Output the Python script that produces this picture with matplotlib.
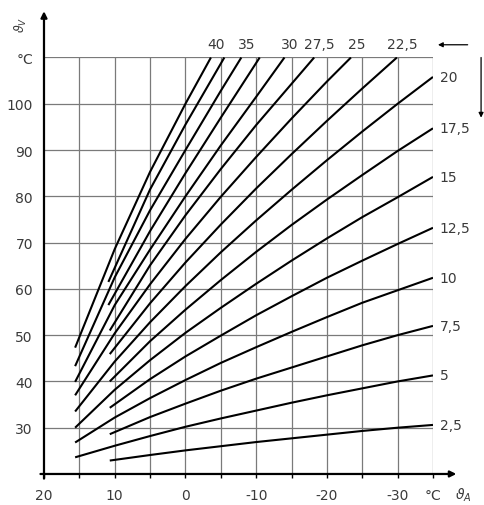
import matplotlib.pyplot as plt

# Heating curves: flow temperature vs. outside temperature, one line per steepness.
# Values (outside temp in °C, flow temp in °C).
x_from_16 = [15.6, 10, 5, 0, -5, -10, -15, -20, -25, -30, -35]
x_from_11 = [10.7, 5, 0, -5, -10, -15, -20, -25, -30, -35]

curve_2_5 = [22.9, 24.1, 25.1, 26.0, 26.9, 27.7, 28.5, 29.3, 30.0, 30.6]
curve_5 = [23.6, 26.1, 28.2, 30.2, 32.0, 33.7, 35.4, 37.0, 38.5, 40.0, 41.3]
curve_7_5 = [28.6, 32.3, 35.2, 38.0, 40.6, 43.0, 45.4, 47.8, 50.0, 52.0]
curve_10 = [26.8, 32.2, 36.4, 40.3, 44.0, 47.4, 50.7, 53.9, 57.0, 59.7, 62.4]
curve_12_5 = [34.3, 40.5, 45.4, 49.9, 54.3, 58.4, 62.4, 66.1, 69.7, 73.2]
curve_15 = [30.0, 38.2, 44.6, 50.5, 55.9, 61.1, 66.1, 70.9, 75.5, 79.8, 84.2]
curve_17_5 = [40.0, 48.7, 55.5, 61.9, 68.0, 73.8, 79.3, 84.6, 89.8, 94.7]
curve_20 = [33.5, 44.3, 52.8, 60.6, 67.9, 74.8, 81.4, 87.8, 94.0, 100.0, 105.8]

# steeper curves leave the chart through the 110 °C line
x_22_5 = [10.7, 5, 0, -5, -10, -15, -20, -25, -29.9]
curve_22_5 = [45.9, 56.9, 65.7, 73.9, 81.7, 89.1, 96.3, 103.3, 110]
x_25 = [15.6, 10, 5, 0, -5, -10, -15, -20, -23.4]
curve_25 = [37.0, 50.4, 61.0, 70.8, 79.9, 88.5, 96.8, 104.8, 110]
x_27_5 = [10.7, 5, 0, -5, -10, -15, -18.2]
curve_27_5 = [51.0, 65.1, 75.9, 85.9, 95.4, 104.3, 110]
x_30 = [15.6, 10, 5, 0, -5, -10, -14.0]
curve_30 = [39.9, 56.5, 68.5, 80.0, 91.0, 101.5, 110]
x_32_5 = [10.9, 5, 0, -5, -10.5]
curve_32_5 = [56.5, 72.5, 85.0, 97.0, 110]
x_35 = [15.6, 10, 5, 0, -5, -7.9]
curve_35 = [43.3, 62.5, 77.0, 90.0, 102.8, 110]
x_37_5 = [10.9, 5, 0, -5.5]
curve_37_5 = [61.5, 81.5, 95.5, 110]
x_40 = [15.6, 10, 5, 0, -3.6]
curve_40 = [47.3, 68.6, 85.3, 100.0, 110]

side_labels = ["2,5", "5", "7,5", "10", "12,5", "15", "17,5", "20"]
top_labels = ["22,5", "25", "27,5", "30", None, "35", None, "40"]

x_ticks = [20, 10, 0, -10, -20, -30, -35]
x_tick_labels = ["20", "10", "0", "-10", "-20", "-30", "°C"]
y_ticks = [30, 40, 50, 60, 70, 80, 90, 100, 110]
y_tick_labels = ["30", "40", "50", "60", "70", "80", "90", "100", "°C"]

TEXT = "#3a3a3a"
GRID = "#7a7a7a"

fig = plt.figure(figsize=(4.84, 5.06), dpi=100)
ax = fig.add_axes([0.0909, 0.0613, 0.8037, 0.8231])
ax.set_xlim(20, -35)
ax.set_ylim(20, 110)
for spine in ax.spines.values():
    spine.set_visible(False)

# grid incl. right and top frame lines
for gx in range(15, -36, -5):
    ax.axvline(gx, color=GRID, lw=0.9, zorder=1)
for gy in range(30, 111, 10):
    ax.axhline(gy, color=GRID, lw=0.9, zorder=1)

# axes with arrow heads
arrow = dict(arrowstyle="-|>", lw=1.6, color="black", mutation_scale=9, shrinkA=0, shrinkB=0)
ax.annotate("", xy=(20, 120), xytext=(20, 19), arrowprops=arrow, annotation_clip=False)
ax.annotate("", xy=(-38.3, 20), xytext=(20.5, 20), arrowprops=arrow, annotation_clip=False)

low_curves = [
    (x_from_11, curve_2_5), (x_from_16, curve_5), (x_from_11, curve_7_5), (x_from_16, curve_10),
    (x_from_11, curve_12_5), (x_from_16, curve_15), (x_from_11, curve_17_5), (x_from_16, curve_20),
]
high_curves = [
    (x_22_5, curve_22_5), (x_25, curve_25), (x_27_5, curve_27_5), (x_30, curve_30),
    (x_32_5, curve_32_5), (x_35, curve_35), (x_37_5, curve_37_5), (x_40, curve_40),
]

for (xs, ys), label in zip(low_curves, side_labels):
    ax.plot(xs, ys, color="black", lw=1.5, zorder=3, solid_capstyle="butt")
    ax.annotate(label, xy=(xs[-1], ys[-1]), xytext=(5, 0), textcoords="offset points",
                ha="left", va="center", fontsize=10, color=TEXT, annotation_clip=False)

for (xs, ys), label in zip(high_curves, top_labels):
    ax.plot(xs, ys, color="black", lw=1.5, zorder=3, solid_capstyle="butt")
    if label:
        ax.annotate(label, xy=(xs[-1], ys[-1]), xytext=(4, 10), textcoords="offset points",
                    ha="center", va="center", fontsize=10, color=TEXT, annotation_clip=False)

# small arrows next to the curve labels
thin = dict(arrowstyle="-|>", lw=0.9, color="black", mutation_scale=7, shrinkA=0, shrinkB=0)
ax.annotate("", xy=(-35.7, 112.75), xytext=(-39.9, 112.75), arrowprops=thin, annotation_clip=False)
ax.annotate("", xy=(-41.8, 97.0), xytext=(-41.8, 110), arrowprops=thin, annotation_clip=False)

ax.set_xticks(x_ticks, x_tick_labels)
ax.set_xticks(range(15, -36, -5), minor=True)
ax.set_yticks(y_ticks, y_tick_labels)
ax.tick_params(axis="x", which="both", length=3, width=1, pad=7, labelsize=10, labelcolor=TEXT)
ax.tick_params(axis="y", length=0, pad=8, labelsize=10, labelcolor=TEXT)

ax.text(23.3, 117.3, r"$\vartheta_V$", rotation=90, ha="center", va="center",
        fontsize=9, color=TEXT, clip_on=False)
ax.text(-39.3, 15.6, r"$\vartheta_A$", ha="center", va="center",
        fontsize=10, color=TEXT, clip_on=False)

fig.savefig("out.png", dpi=100)
